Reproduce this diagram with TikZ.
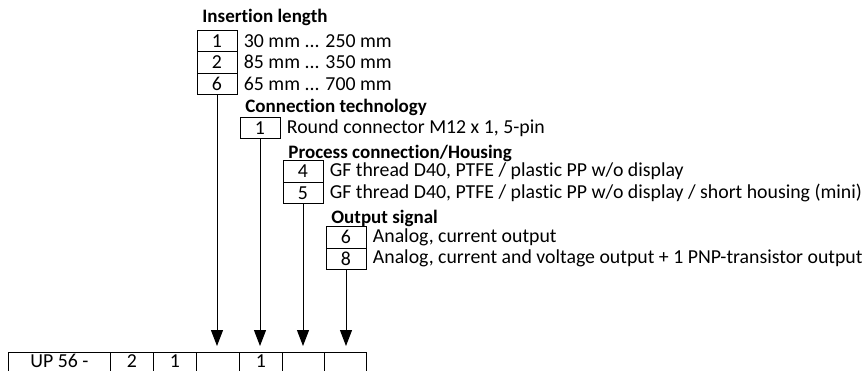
\documentclass[tikz,border=0pt]{standalone}
\usepackage{fontspec}
\setmainfont{Carlito}[Ligatures=CommonOff]
\usetikzlibrary{arrows.meta}

\begin{document}
\begin{tikzpicture}[x=0.5pt,y=-0.5pt,
  every node/.style={font=\fontsize{9.9}{11}\selectfont},
  codebox/.style={draw,line width=0.5pt,minimum width=20pt,minimum height=10.75pt,inner sep=0pt},
  cell/.style={draw,line width=0.5pt,anchor=north west,minimum height=10.75pt,inner sep=0pt,
    text height=6.6pt,text depth=2.4pt},
  option/.style={anchor=west,inner sep=0pt},
  heading/.style={anchor=west,inner sep=0pt,font=\fontsize{9.5}{11}\selectfont\bfseries},
  feed/.style={line width=0.5pt,-{Triangle[width=6pt,length=8pt]},shorten >=3pt}]
\useasboundingbox (0,0) rectangle (867,370);

% insertion length
\node[heading] (hil) at (202,17) {Insertion length};
\node[codebox] (il1) at (217,40.75) {1};
\node[codebox] (il2) at (217,62.25) {2};
\node[codebox] (il6) at (217,83.75) {6};
\node[option] at ([xshift=3pt]il1.east) {30 mm ... 250 mm};
\node[option] at ([xshift=3pt]il2.east) {85 mm ... 350 mm};
\node[option] at ([xshift=3pt]il6.east) {65 mm ... 700 mm};

% connection technology
\node[heading] (hct) at (245,107) {Connection technology};
\node[codebox] (ct1) at (260,127.75) {1};
\node[option] at ([xshift=3pt]ct1.east) {Round connector M12 x 1, 5-pin};

% process connection / housing
\node[heading] (hpc) at (288,153) {Process connection/Housing};
\node[codebox] (pc4) at (303,171.25) {4};
\node[codebox] (pc5) at (303,192.75) {5};
\node[option] at ([xshift=3pt]pc4.east) {GF thread D40, PTFE / plastic PP w/o display};
\node[option] at ([xshift=3pt]pc5.east) {GF thread D40, PTFE / plastic PP w/o display / short housing (mini)};

% output signal
\node[heading] (hos) at (331,218) {Output signal};
\node[codebox] (os6) at (346,237.25) {6};
\node[codebox] (os8) at (346,258.75) {8};
\node[option] at ([xshift=3pt]os6.east) {Analog, current output};
\node[option] at ([xshift=3pt]os8.east) {Analog, current and voltage output + 1 PNP-transistor output};

% type code
\node[cell,minimum width=51pt] (c0) at (8,352) {UP 56 -};
\node[cell,minimum width=21.5pt] (c1) at (110,352) {2};
\node[cell,minimum width=21.5pt] (c2) at (153,352) {1};
\node[cell,minimum width=21.5pt] (c3) at (196,352) {};
\node[cell,minimum width=21.5pt] (c4) at (239,352) {1};
\node[cell,minimum width=21pt] (c5) at (282,352) {};
\node[cell,minimum width=21pt] (c6) at (324,352) {};

\draw[feed] (il6.south) -- (il6.south |- c3.north);
\draw[feed] (ct1.south) -- (ct1.south |- c4.north);
\draw[feed] (pc5.south) -- (pc5.south |- c5.north);
\draw[feed] (os8.south) -- (os8.south |- c6.north);

\end{tikzpicture}
\end{document}
